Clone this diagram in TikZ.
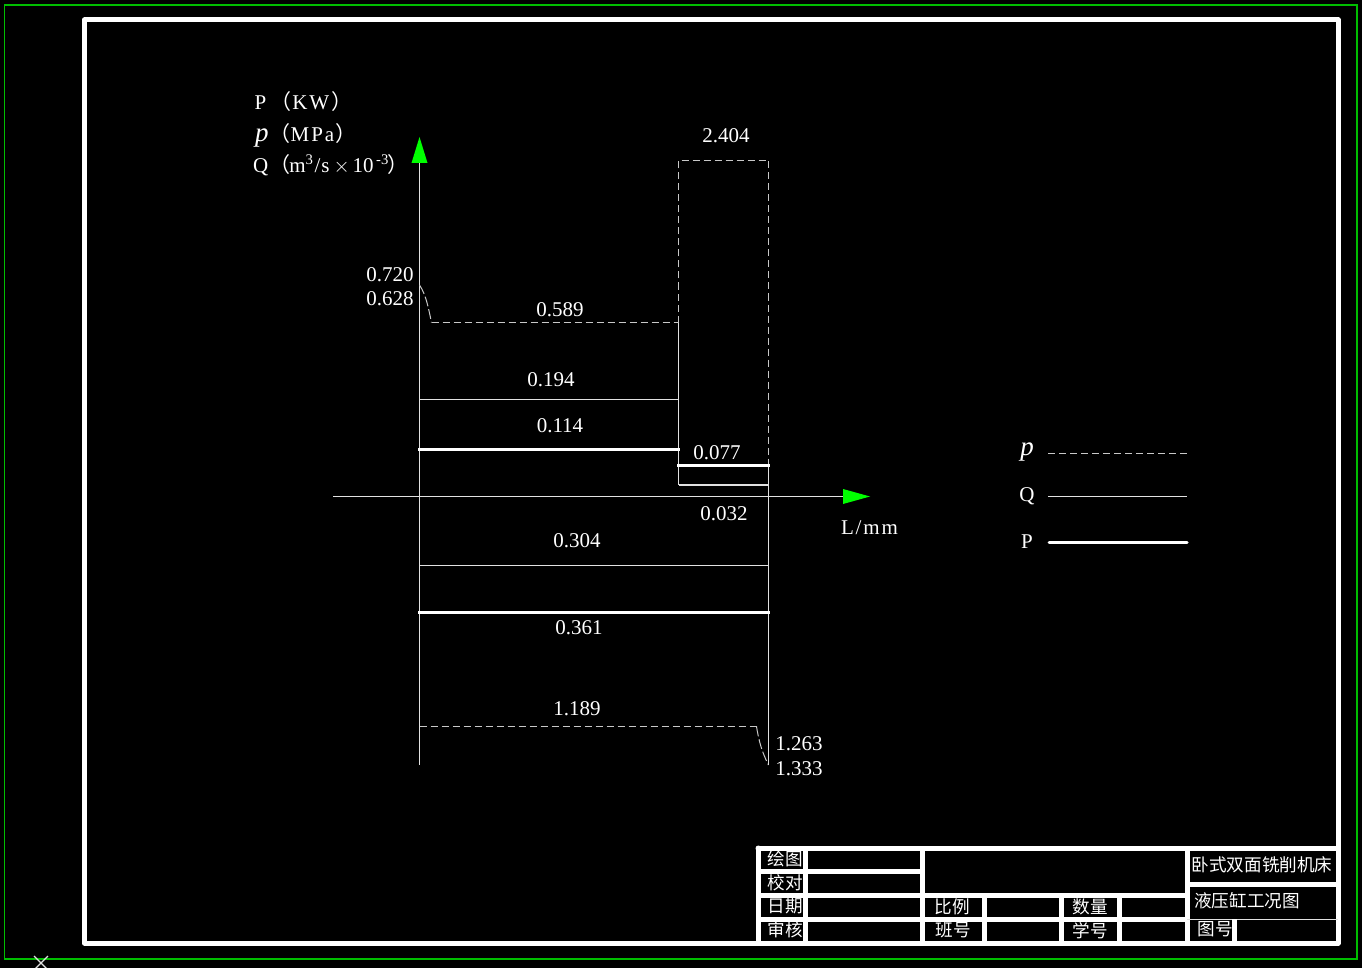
\documentclass[tikz,border=0pt]{standalone}
\usepackage{fontspec}
\setmainfont{Liberation Serif}
\newfontfamily\cjk{Noto Sans CJK SC}
\newfontfamily\widefont[LetterSpace=9]{Liberation Serif}
\newcommand{\bigp}{{\fontsize{27}{27}\selectfont\textit{p}}}
\definecolor{framegreen}{RGB}{0,190,0}
\definecolor{headgreen}{RGB}{0,255,0}
\definecolor{thinwhite}{RGB}{225,225,225}
\definecolor{dashwhite}{RGB}{200,200,200}
\tikzset{
	borderline/.style={white, line width=5pt, line cap=round, line join=round},
	cellline/.style={white, line width=5pt},
	pline/.style={dashwhite, line width=1pt, dash pattern=on 7pt off 4pt},
	qline/.style={thinwhite, line width=1pt},
	powerline/.style={white, line width=3pt},
	valtext/.style={white, inner sep=0pt, yshift=-1pt, font=\fontsize{21}{21}\selectfont},
	celltext/.style={white, inner sep=0pt, font=\fontsize{17.6}{18}\cjk},
}
\begin{document}
\begin{tikzpicture}[x=1pt, y=-1pt]
	\useasboundingbox (0,0) rectangle (1362,968);
	\fill [black] (0,0) rectangle (1362,968);
	\draw [framegreen, line width=1.5pt] (4.5,5) rectangle (1357,959);
	\draw [thinwhite, line width=1.2pt] (34,956) -- (48,970);
	\draw [thinwhite, line width=1.2pt] (48,956) -- (34,970);
	\draw [borderline] (84.5,20) rectangle (1338,943);
	% title block
	\draw [borderline] (758,848) -- (1338,848);
	\draw [borderline] (758,848) -- (758,943);
	\draw [cellline] (805,848) -- (805,943);
	\draw [cellline] (922,848) -- (922,943);
	\draw [cellline] (1187,848) -- (1187,943);
	\draw [cellline] (758,871.5) -- (922,871.5);
	\draw [cellline] (758,895) -- (1187,895);
	\draw [cellline] (758,919) -- (1187,919);
	\draw [cellline] (984,895) -- (984,943);
	\draw [cellline] (1061,895) -- (1061,943);
	\draw [cellline] (1119,895) -- (1119,943);
	\draw [cellline] (1187,884.5) -- (1338,884.5);
	\draw [qline] (1187,919.5) -- (1338,919.5);
	\draw [cellline] (1234.5,919) -- (1234.5,943);
	\node [celltext] (drawn) at (785,859) {绘图};
	\node [celltext] (checked) at (785,883) {校对};
	\node [celltext] (dated) at (785,906) {日期};
	\node [celltext] (approved) at (785,930) {审核};
	\node [celltext] (ratio) at (952,907) {比例};
	\node [celltext] (classno) at (953,930) {班号};
	\node [celltext] (amount) at (1090,907) {数量};
	\node [celltext] (studentno) at (1090,931) {学号};
	\node [celltext] (machine) at (1262,865) {卧式双面铣削机床};
	\node [celltext] (chartname) at (1247,901) {液压缸工况图};
	\node [celltext] (drawingno) at (1215,929) {图号};
	% axes
	\draw [qline] (419.5,765) -- (419.5,163);
	\fill [headgreen] (419.5,137) -- (427.5,163) -- (411.5,163) -- cycle;
	\draw [qline] (333,496.5) -- (843,496.5);
	\fill [headgreen] (870,496.5) -- (843,489) -- (843,504) -- cycle;
	\node [valtext, anchor=west] (powerunit) at (254.5,101) {P\hspace{4pt}{\cjk （}\hspace{1pt}{\widefont KW}\hspace{2pt}{\cjk ）}};
	\node [valtext, anchor=west] (pressunit) at (255,134) {\bigp\hspace{1pt}{\cjk （}{\widefont MPa}\hspace{1pt}{\cjk ）}};
	\node [valtext, anchor=west] (flowunit) at (253,164) {Q\hspace{1pt}{\cjk （}\hspace{-1pt}m\textsuperscript{3}\hspace{1pt}/\hspace{1pt}s\hspace{4pt}$\times$\hspace{3pt}10\textsuperscript{\,-3}\hspace{-1pt}{\cjk ）}};
	\node [valtext] (lenunit) at (869.5,527) {\widefont L/mm};
	% pressure
	\draw [pline, dash pattern=on 10pt off 3pt] (419.5,285) .. controls (426,295) and (428,306) .. (431.5,322.5);
	\draw [pline] (431.5,322.5) -- (678.5,322.5);
	\draw [pline] (678.5,322.5) -- (678.5,160.5) -- (768.5,160.5) -- (768.5,465);
	\draw [pline] (419.5,726.5) -- (756.5,726.5);
	\draw [pline, dash pattern=on 10pt off 3pt] (756.5,726.5) .. controls (759,742) and (762,752) .. (768.5,765);
	% flow
	\draw [qline] (419.5,399.5) -- (678.5,399.5);
	\draw [qline] (678.5,322.5) -- (678.5,485);
	\draw [thinwhite, line width=1.6pt] (678.5,485) -- (768.5,485);
	\draw [qline] (768.5,465) -- (768.5,765);
	\draw [qline] (419.5,565.5) -- (768.5,565.5);
	% power
	\draw [powerline] (418,449) -- (680,449);
	\draw [powerline] (677,465) -- (769.5,465);
	\draw [powerline] (418,612.5) -- (769.5,612.5);
	% values
	\node [valtext] (pstarthigh) at (390,274) {0.720};
	\node [valtext] (pstartlow) at (390,298) {0.628};
	\node [valtext] (pforward) at (560,309) {0.589};
	\node [valtext] (qforward) at (551,379) {0.194};
	\node [valtext] (powerforward) at (560,425) {0.114};
	\node [valtext] (powerfast) at (717,452) {0.077};
	\node [valtext] (qfast) at (724,513) {0.032};
	\node [valtext] (qback) at (577,540) {0.304};
	\node [valtext] (powerback) at (579,627) {0.361};
	\node [valtext] (pback) at (577,708) {1.189};
	\node [valtext] (pendlow) at (799,743) {1.263};
	\node [valtext] (pendhigh) at (799,768) {1.333};
	\node [valtext] (ppeak) at (726,135) {2.404};
	% legend
	\node [valtext] (legendp) at (1027,451) {\bigp};
	\node [valtext] (legendq) at (1027,495) {Q};
	\node [valtext] (legendpower) at (1027,541) {P};
	\draw [pline] (1048,453.5) -- (1187,453.5);
	\draw [qline] (1048,496.5) -- (1187,496.5);
	\draw [powerline, line cap=round] (1049,542) -- (1187,542);
\end{tikzpicture}
\end{document}
